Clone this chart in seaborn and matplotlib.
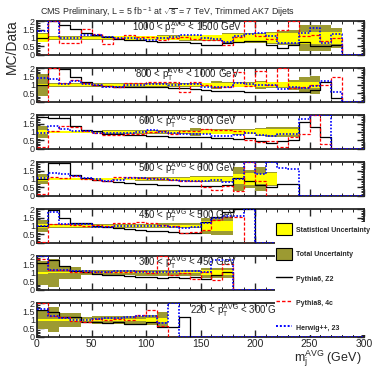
import numpy as np
import matplotlib
matplotlib.use("Agg")
import matplotlib.pyplot as plt
import seaborn as sns
from matplotlib.patches import Patch
from matplotlib.lines import Line2D
from matplotlib.ticker import MultipleLocator, FuncFormatter

sns.set_style("ticks")
plt.rcParams['font.family'] = ['Liberation Sans', 'DejaVu Sans']
plt.rcParams['mathtext.fontset'] = 'custom'
plt.rcParams['mathtext.rm'] = 'Liberation Sans'
plt.rcParams['mathtext.it'] = 'Liberation Sans:italic'
plt.rcParams['mathtext.bf'] = 'Liberation Sans:bold'

# ---------------- data ----------------
bin_edges = list(range(0, 310, 10))
pt_labels = ["1000 < p$_{\\rm T}^{\\rm AVG}$ < 1500 GeV",
             "800 < p$_{\\rm T}^{\\rm AVG}$ < 1000 GeV",
             "600 < p$_{\\rm T}^{\\rm AVG}$ < 800 GeV",
             "500 < p$_{\\rm T}^{\\rm AVG}$ < 600 GeV",
             "450 < p$_{\\rm T}^{\\rm AVG}$ < 500 GeV",
             "300 < p$_{\\rm T}^{\\rm AVG}$ < 450 GeV",
             "220 < p$_{\\rm T}^{\\rm AVG}$ < 300 GeV"]

# panel 1: 1000-1500
stat_1 = [0.22,0.07,0.07,0.07,0.07,0.07,0.07,0.1,0.1,0.1,0.1,0.1,0.1,0.15,0.15,0.15,0.15,0.25,0.25,0.25,0.25,0.3,0.3,0.3,0.35,0.35,0.35,0.35]
tot_1 = [0.27,0.11,0.11,0.11,0.11,0.11,0.11,0.14,0.14,0.14,0.14,0.15,0.15,0.2,0.2,0.2,0.2,0.3,0.3,0.3,0.3,0.35,0.4,0.45,0.8,0.8,0.8,0.6]
p6_1 = [1.0,2.0,1.75,1.55,1.3,1.2,1.05,0.95,0.9,0.85,0.8,0.78,0.75,0.75,0.7,0.6,0.55,0.7,0.75,0.8,0.8,0.55,0.4,0.6,0.75,0.5,0.5,0.55,0,0]
p8_1 = [0,2.0,0.7,0.7,1.55,1.25,0.65,1.0,1.2,1.05,1.05,0.9,1.0,1.05,0.95,0.9,0.85,0.6,1.05,2.0,1.1,0.95,1.5,2.0,1.1,1.2,0.8,1.0,0,0]
hw_1 = [1.4,2.0,1.0,1.0,1.2,1.15,1.05,1.0,1.0,0.95,0.9,1.0,1.05,1.2,1.2,1.0,0.95,0.75,1.1,1.25,1.3,1.1,0.7,0.7,1.3,1.6,0.7,1.25,0,0]

# panel 2: 800-1000
stat_2 = [0.08,0.05,0.05,0.05,0.05,0.05,0.05,0.05,0.05,0.07,0.07,0.07,0.07,0.07,0.07,0.1,0.1,0.1,0.1,0.1,0.15,0.15,0.15,0.15,0.2,0.2]
tot_2 = [0.65,0.1,0.1,0.1,0.1,0.1,0.1,0.1,0.1,0.1,0.1,0.12,0.12,0.12,0.12,0.12,0.25,0.15,0.15,0.15,0.25,0.2,0.2,0.3,0.5,0.55]
p6_2 = [1.0,2.0,1.95,1.5,1.2,1.0,0.95,0.9,0.85,0.85,0.85,0.85,0.8,0.8,0.75,0.7,0.65,0.65,0.65,0.6,0.6,0.55,0.6,0.6,0.6,0.7,1.2,0.2,0,0]
p8_2 = [0,2.0,1.1,1.3,1.1,1.0,0.95,0.85,1.1,1.1,1.2,1.2,1.15,0.6,1.15,1.0,0.9,0.9,1.8,0.95,1.85,1.0,2.0,0.8,0.85,1.0,1.0,1.5,0,0]
hw_2 = [1.4,1.35,1.05,1.25,1.05,1.0,0.85,0.9,1.0,1.0,1.05,1.05,1.0,1.05,1.05,0.9,0.9,0.85,1.1,1.05,1.0,1.0,0.75,0.85,0.8,0.95,1.25,0.55,0,0]

# panel 3: 600-800
stat_3 = [0.1,0.04,0.04,0.04,0.04,0.04,0.04,0.04,0.04,0.06,0.06,0.06,0.06,0.06,0.06,0.1,0.1,0.1,0.1,0.1,0.2,0.2,0.2,0.2]
tot_3 = [0.35,0.08,0.08,0.08,0.08,0.08,0.1,0.1,0.1,0.1,0.1,0.1,0.1,0.12,0.22,0.15,0.15,0.15,0.2,0.15,0.25,0.3,0.3,0.3]
p6_3 = [1.9,1.85,1.85,1.35,1.1,1.05,0.9,0.85,0.8,0.8,0.78,0.75,0.72,0.7,0.68,0.7,0.65,0.62,0.6,0.65,0.45,0.35,0.45,0.5,1.6,1.3,0.7,0,0,0]
p8_3 = [0.1,1.05,1.35,1.3,1.05,0.95,0.8,0.8,0.9,0.85,1.0,1.05,0.9,1.05,1.05,1.15,1.1,1.1,1.05,0.5,0.4,0.45,0.1,0.7,0.9,2.0,0.3,0,0,0]
hw_3 = [0.95,1.35,1.15,1.05,1.05,0.95,0.95,0.95,0.95,1.0,1.1,1.0,0.95,0.9,0.9,0.9,0.75,0.75,0.8,0.95,0.8,0.75,0.85,0.85,1.8,2.0,2.0,0,0,0]

# panel 4: 500-600
stat_4 = [0.1,0.04,0.04,0.04,0.04,0.04,0.04,0.04,0.04,0.07,0.07,0.07,0.07,0.07,0.12,0.12,0.12,0.12,0.3,0.35,0.3,0.35]
tot_4 = [0.3,0.08,0.08,0.08,0.08,0.08,0.08,0.08,0.08,0.12,0.12,0.12,0.12,0.12,0.2,0.2,0.2,0.2,0.7,0.55,0.7,0.4]
p6_4 = [1.0,1.95,1.95,1.25,1.05,0.95,0.85,0.8,0.75,0.7,0.7,0.65,0.65,0.6,0.6,0.6,0.55,0.65,1.05,0.85,0.65,0.5,0.7,0.7,0,0,0,0,0,0]
p8_4 = [0.1,1.1,1.05,1.15,1.0,0.95,0.85,1.1,1.1,1.05,1.05,1.0,0.95,0.9,0.9,0.5,0.35,0.55,0.3,2.0,0.85,0,0,0,0,0,0,0,0,0]
hw_4 = [1.05,1.35,1.3,1.15,1.05,1.0,0.9,0.95,1.05,1.05,1.0,1.0,0.95,0.85,0.85,0.85,0.95,0.8,1.0,2.0,1.3,2.0,1.65,1.6,0,0,0,0,0,0]

# panel 5: 450-500
stat_5 = [0.1,0.04,0.04,0.04,0.04,0.04,0.04,0.04,0.04,0.07,0.07,0.07,0.07,0.07,0.07,0.3,0.3,0.3]
tot_5 = [0.35,0.1,0.1,0.1,0.1,0.1,0.1,0.1,0.1,0.1,0.1,0.15,0.15,0.15,0.15,0.5,0.55,0.55]
p6_5 = [1.0,1.95,1.5,1.2,1.15,1.0,0.95,0.85,0.8,0.75,0.7,0.7,0.65,0.6,0.55,1.25,1.55,1.85,2.0,2.0,0,0,0,0,0,0,0,0,0,0]
p8_5 = [0.05,1.1,1.1,1.05,1.0,1.05,1.0,1.2,1.2,1.25,1.2,1.05,1.0,0.55,0.65,0.75,1.35,1.55,1.55,0,0,0,0,0,0,0,0,0,0,0]
hw_5 = [1.0,1.85,1.1,1.1,1.1,0.95,0.95,1.0,1.0,1.0,1.0,1.0,0.95,0.9,0.95,1.15,1.5,1.6,1.6,2.0,0,0,0,0,0,0,0,0,0,0]

# panel 6: 300-450
stat_6 = [0.06,0.03,0.03,0.03,0.03,0.03,0.03,0.03,0.03,0.03,0.03,0.03,0.03,0.03,0.03,0.15,0.15,0.15]
tot_6 = [0.7,0.85,0.35,0.35,0.15,0.15,0.15,0.15,0.15,0.2,0.2,0.2,0.2,0.2,0.2,0.3,0.3,0.3]
p6_6 = [1.6,1.8,1.4,1.1,1.05,0.95,0.9,0.85,0.8,0.75,0.75,0.7,0.75,0.7,0.75,0.65,0.85,1.05,0,0,0,0,0,0,0,0,0,0,0,0]
p8_6 = [1.85,1.15,1.15,1.05,1.05,1.05,1.05,1.05,1.05,1.1,1.0,2.0,0.85,1.0,0.65,1.05,0.55,1.55,0,0,0,0,0,0,0,0,0,0,0,0]
hw_6 = [2.0,1.2,1.15,1.1,1.1,1.05,1.05,1.1,1.1,1.05,1.05,1.05,1.05,1.1,1.1,1.05,1.8,1.8,0,0,0,0,0,0,0,0,0,0,0,0]

# panel 7: 220-300
stat_7 = [0.05,0.04,0.04,0.04,0.04,0.04,0.04,0.04,0.04,0.04,0.1,0.1]
tot_7 = [0.55,0.75,0.4,0.4,0.2,0.25,0.25,0.25,0.25,0.25,0.3,0.5]
p6_7 = [1.6,1.45,1.2,1.15,0.9,0.85,0.8,0.85,0.75,0.75,0.9,0.55,0.55,1.2,0,0,0,0,0,0,0,0,0,0,0,0,0,0,0,0]
p8_7 = [2.0,1.25,1.15,0.95,0.9,1.05,1.0,1.05,1.0,1.3,1.6,0.65,0,0,0,0,0,0,0,0,0,0,0,0,0,0,0,0,0,0]
hw_7 = [1.65,1.25,1.1,1.0,1.0,1.05,1.1,1.1,1.15,1.25,1.25,0.8,2.0,0,0,0,0,0,0,0,0,0,0,0,0,0,0,0,0,0]

panels = [(stat_1, tot_1, p6_1, p8_1, hw_1),
          (stat_2, tot_2, p6_2, p8_2, hw_2),
          (stat_3, tot_3, p6_3, p8_3, hw_3),
          (stat_4, tot_4, p6_4, p8_4, hw_4),
          (stat_5, tot_5, p6_5, p8_5, hw_5),
          (stat_6, tot_6, p6_6, p8_6, hw_6),
          (stat_7, tot_7, p6_7, p8_7, hw_7)]
label_pos = [(0.46, 0.80), (0.46, 0.80), (0.46, 0.80), (0.46, 0.80),
             (0.46, 0.80), (0.46, 0.80), (0.62, 0.78)]

# ---------------- figure ----------------
W, H = 373, 369
fig = plt.figure(figsize=(W / 100, H / 100), dpi=100)
YEL = '#ffff00'
OLV = '#9c9a32'
edges = np.array(bin_edges, dtype=float)

def px_axes(top, height, left=37, right=364):
    return [left / W, 1 - (top + height) / H, (right - left) / W, height / H]

axes = []
for i, (stat, tot, p6, p8, hw) in enumerate(panels):
    ax = fig.add_axes(px_axes(21 + 47 * i, 33.5))
    axes.append(ax)
    n = len(stat)
    x0 = edges[:n]
    tot = np.array(tot); stat = np.array(stat)
    ax.bar(x0, 2 * tot, bottom=1 - tot, width=10, align='edge',
           color=OLV, linewidth=0, zorder=1)
    ax.bar(x0, 2 * stat, bottom=1 - stat, width=10, align='edge',
           color=YEL, linewidth=0, zorder=2)
    for vals, col, ls, lw in [(p6, 'black', '-', 0.9),
                              (p8, 'red', (0, (2.5, 1.5)), 0.9),
                              (hw, 'blue', (0, (1, 1)), 1.2)]:
        v = np.append(np.array(vals, dtype=float), vals[-1])
        sns.lineplot(x=edges, y=v, ax=ax, color=col, linestyle=ls, linewidth=lw,
                     drawstyle='steps-post', zorder=3, legend=False)
    ax.set_xlim(0, 300)
    ax.set_ylim(0, 2.02)
    ax.set_xlabel('')
    ax.set_ylabel('')
    ax.yaxis.set_major_locator(MultipleLocator(0.5))
    ax.yaxis.set_minor_locator(MultipleLocator(0.1))
    ax.xaxis.set_major_locator(MultipleLocator(50))
    ax.xaxis.set_minor_locator(MultipleLocator(10))
    ax.yaxis.set_major_formatter(FuncFormatter(lambda v, p: '%g' % v))
    ax.tick_params(which='both', direction='in', top=True, right=True,
                   labelsize=6.5, pad=1.5)
    ax.tick_params(which='major', length=5, width=1.0)
    ax.tick_params(which='minor', length=2.5, width=0.7)
    for s in ax.spines.values():
        s.set_linewidth(1.3)
    if i < 6:
        ax.tick_params(labelbottom=False)
    else:
        ax.tick_params(axis='x', labelsize=7.5, pad=2)
    ax.text(label_pos[i][0], label_pos[i][1], pt_labels[i], transform=ax.transAxes,
            ha='center', va='center', fontsize=7, zorder=5)

fig.text(40 / W, 1 - 12 / H,
         r'CMS Preliminary, L = 5 fb$^{\rm -1}$ at $\sqrt{\rm s}$ = 7 TeV, Trimmed AK7 Dijets',
         ha='left', va='center', fontsize=6.4)
fig.text(12 / W, 1 - 47 / H, 'MC/Data', rotation=90, ha='center', va='center', fontsize=10)
fig.text(361 / W, 0.0, r'm$_{\rm j}^{\rm AVG}$ (GeV)', ha='right', va='bottom', fontsize=9)

handles = [Patch(facecolor=YEL, edgecolor='black', linewidth=0.8),
           Patch(facecolor=OLV, edgecolor='black', linewidth=0.8),
           Line2D([0], [0], color='black', lw=1.0),
           Line2D([0], [0], color='red', lw=1.0, ls=(0, (2.5, 1.5))),
           Line2D([0], [0], color='blue', lw=1.4, ls=(0, (1, 1)))]
labels = ['Statistical Uncertainty', 'Total Uncertainty', 'Pythia6, Z2',
          'Pythia8, 4c', 'Herwig++, 23']
leg = fig.legend(handles, labels, loc='upper left',
                 bbox_to_anchor=(275 / W, 1 - 222 / H),
                 prop={'size': 5, 'weight': 'bold'},
                 handlelength=2.2, handleheight=2.3, labelspacing=1.8,
                 handletextpad=0.6, borderpad=0.2, borderaxespad=0,
                 frameon=True, fancybox=False)
leg.get_frame().set_facecolor('white')
leg.get_frame().set_edgecolor('none')
leg.get_frame().set_alpha(1)

fig.savefig('out.png', dpi=100)
